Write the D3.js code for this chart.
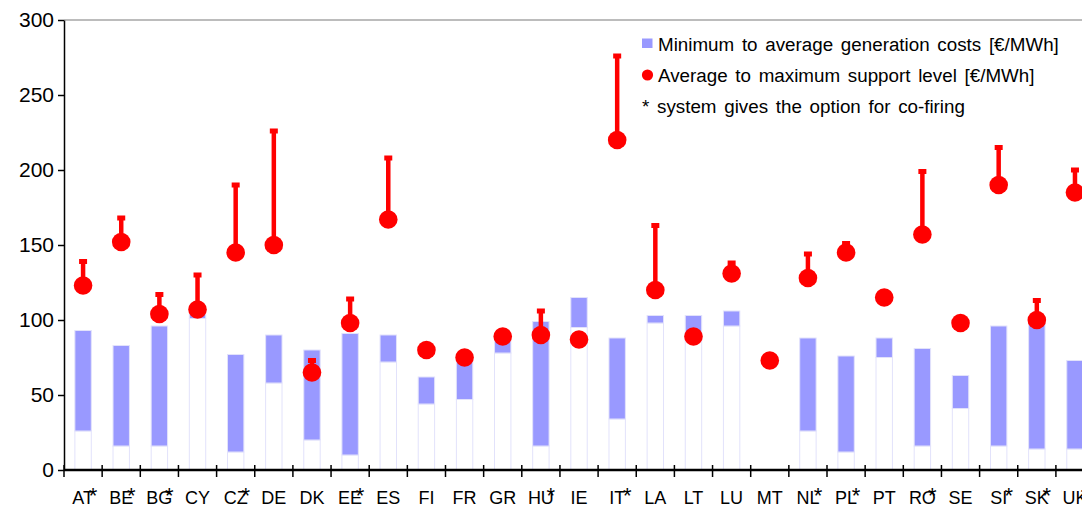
<!DOCTYPE html>
<html>
<head>
<meta charset="utf-8">
<script src="https://cdn.jsdelivr.net/npm/d3@7"></script>
<style>
  body { margin: 0; background: #fff; }
  svg { display: block; font-family: "Liberation Sans", Arial, sans-serif; }
</style>
</head>
<body>
<div id="chart"></div>
<script>
// country codes along the x axis
const countries = ['AT', 'BE', 'BG', 'CY', 'CZ', 'DE', 'DK', 'EE', 'ES', 'FI', 'FR', 'GR', 'HU', 'IE',
    'IT', 'LA', 'LT', 'LU', 'MT', 'NL', 'PL', 'PT', 'RO', 'SE', 'SI', 'SK', 'UK'];
// countries where the system allows co-firing (marked with *)
const coFiring = ['AT', 'BE', 'BG', 'CZ', 'EE', 'HU', 'IT', 'NL', 'PL', 'RO', 'SI', 'SK', 'UK'];
// generation costs [€/MWh]
const minCost = [26, 16, 16, 101, 12, 58, 20, 10, 72, 44, 47, 78, 16, 95,
    34, 98, 88, 96, null, 26, 12, 75, 16, 41, 16, 14, 14];
const avgCost = [93, 83, 96, 104, 77, 90, 80, 91, 90, 62, 77, 86, 99, 115,
    88, 103, 103, 106, null, 88, 76, 88, 81, 63, 96, 98, 73];
// support levels [€/MWh]
const avgSupport = [123, 152, 104, 107, 145, 150, 65, 98, 167, 80, 75, 89, 90, 87,
    220, 120, 89, 131, 73, 128, 145, 115, 157, 98, 190, 100, 185];
const maxSupport = [139, 168, 117, 130, 190, 226, 73, 114, 208, null, null, null, 106, null,
    276, 163, null, 138, null, 144, 151, null, 199, null, 215, 113, 200];
const yTicks = [0, 50, 100, 150, 200, 250, 300];
const legendLabels = ['Minimum to average generation costs [€/MWh]',
    'Average to maximum support level [€/MWh]',
    '* system gives the option for co-firing'];

const width = 1082, height = 508;
const marginLeft = 64, plotTop = 20, plotBottom = 470;
const step = 38.15;

const data = countries.map((c, i) => ({
    name: c, min: minCost[i], avg: avgCost[i], sup: avgSupport[i], max: maxSupport[i],
    star: coFiring.includes(c)
}));

const svg = d3.select('#chart').append('svg')
    .attr('width', width)
    .attr('height', height)
    .attr('viewBox', [0, 0, width, height]);

const x = d3.scaleBand()
    .domain(countries)
    .range([marginLeft, marginLeft + step * countries.length])
    .paddingInner(0).paddingOuter(0);

const y = d3.scaleLinear()
    .domain([0, 300])
    .range([plotBottom, plotTop]);

const barW = x.bandwidth() * 0.43;
const cx = d => x(d.name) + x.bandwidth() / 2;

// top border of the plot area
svg.append('line')
    .attr('x1', marginLeft).attr('x2', width)
    .attr('y1', y(300)).attr('y2', y(300))
    .attr('stroke', '#a6a6a6').attr('stroke-width', 1.5);

// bars: white base up to the minimum, blue from minimum to average
const bars = svg.append('g');
const withBars = data.filter(d => d.min != null);
bars.selectAll('rect.base')
    .data(withBars)
    .join('rect')
    .attr('class', 'base')
    .attr('x', d => cx(d) - barW / 2)
    .attr('width', barW)
    .attr('y', d => y(d.min))
    .attr('height', d => y(0) - y(d.min))
    .attr('fill', '#fff')
    .attr('stroke', '#e2e2fb')
    .attr('stroke-width', 1);
bars.selectAll('rect.range')
    .data(withBars)
    .join('rect')
    .attr('class', 'range')
    .attr('x', d => cx(d) - barW / 2)
    .attr('width', barW)
    .attr('y', d => y(d.avg))
    .attr('height', d => y(d.min) - y(d.avg))
    .attr('fill', '#9999ff')
    .attr('stroke', '#e2e2fb')
    .attr('stroke-width', 1);

// y axis
const yAxis = svg.append('g')
    .attr('transform', `translate(${marginLeft},0)`)
    .call(d3.axisLeft(y).tickValues(yTicks).tickSize(6).tickSizeOuter(0));
yAxis.select('.domain').attr('stroke', '#000').attr('stroke-width', 1.5);
yAxis.selectAll('.tick line').attr('stroke', '#000').attr('stroke-width', 1.5);
yAxis.selectAll('.tick text')
    .attr('x', -10)
    .attr('font-size', 21)
    .attr('font-family', '"Liberation Sans", Arial, sans-serif')
    .attr('fill', '#000');

// x axis with ticks between categories
svg.append('line')
    .attr('x1', marginLeft).attr('x2', width)
    .attr('y1', plotBottom).attr('y2', plotBottom)
    .attr('stroke', '#000').attr('stroke-width', 2.5);
svg.append('g').selectAll('line')
    .data(countries)
    .join('line')
    .attr('x1', d => x(d)).attr('x2', d => x(d))
    .attr('y1', plotBottom - 5).attr('y2', plotBottom + 7)
    .attr('stroke', '#000').attr('stroke-width', 1.5);

svg.append('g').selectAll('text')
    .data(data)
    .join('text')
    .attr('x', d => cx(d))
    .attr('y', 504)
    .attr('text-anchor', 'middle')
    .attr('font-size', 18)
    .text(d => d.name);
svg.append('g').selectAll('text')
    .data(data.filter(d => d.star))
    .join('text')
    .attr('x', d => cx(d) + 10)
    .attr('y', 503)
    .attr('text-anchor', 'middle')
    .attr('font-size', 22)
    .text('*');

// support levels: stem from average to maximum, with a small cap
const sup = svg.append('g').attr('fill', '#ff0000');
const withMax = data.filter(d => d.max != null);
sup.selectAll('line')
    .data(withMax)
    .join('line')
    .attr('x1', cx).attr('x2', cx)
    .attr('y1', d => y(d.sup)).attr('y2', d => y(d.max))
    .attr('stroke', '#ff0000').attr('stroke-width', 4.5);
sup.selectAll('rect')
    .data(withMax)
    .join('rect')
    .attr('x', d => cx(d) - 4)
    .attr('y', d => y(d.max) - 2.5)
    .attr('width', 8).attr('height', 5);
sup.selectAll('circle')
    .data(data)
    .join('circle')
    .attr('cx', cx)
    .attr('cy', d => y(d.sup))
    .attr('r', 9.3);

// legend
const legend = svg.append('g').attr('font-size', 18.8);
legend.append('rect')
    .attr('x', 642).attr('y', 38.5).attr('width', 10.5).attr('height', 9.5)
    .attr('fill', '#9999ff');
legend.append('circle')
    .attr('cx', 647.5).attr('cy', 75).attr('r', 5.6)
    .attr('fill', '#ff0000');
legend.selectAll('text')
    .data(legendLabels)
    .join('text')
    .attr('x', (d, i) => i === 2 ? 642 : 658)
    .attr('y', (d, i) => [50.5, 81.5, 113][i])
    .attr('word-spacing', 2.5)
    .text(d => d);
</script>
</body>
</html>
